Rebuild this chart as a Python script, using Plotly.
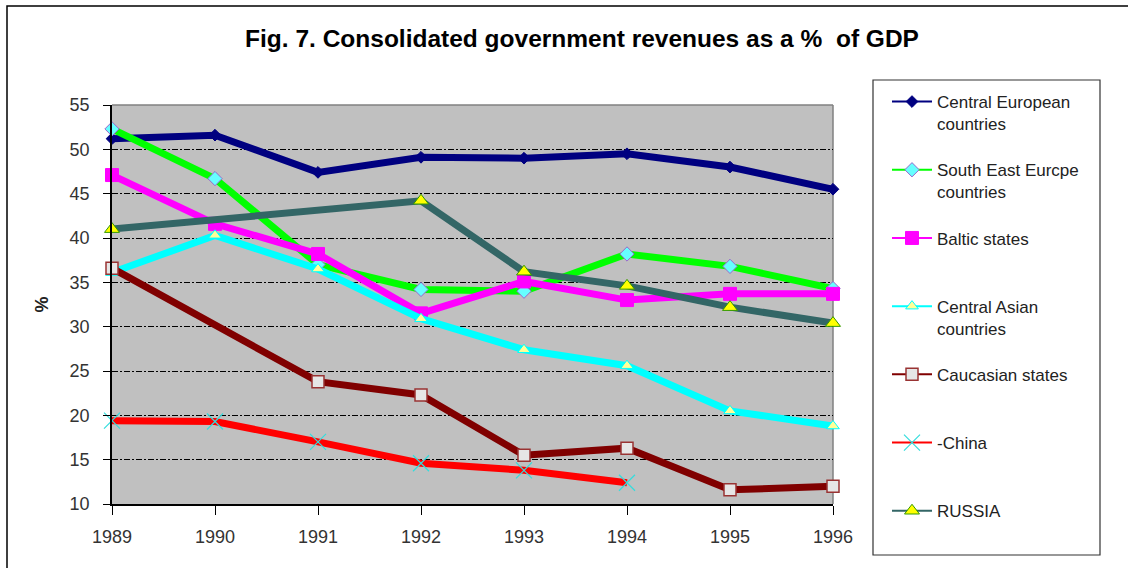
import plotly.graph_objects as go

years = [1989, 1990, 1991, 1992, 1993, 1994, 1995, 1996]
central_europe = [51.2, 51.6, 47.4, 49.1, 49.0, 49.5, 48.0, 45.5]
south_east_europe = [52.3, 46.7, 37.0, 34.2, 34.0, 38.2, 36.8, 34.3]
baltic = [47.1, 41.6, 38.2, 31.5, 35.1, 33.0, 33.7, 33.7]
central_asia = [36.1, 40.3, 36.5, 30.9, 27.4, 25.6, 20.5, 18.8]
caucasus = [36.6, None, 23.8, 22.3, 15.5, 16.3, 11.6, 12.0]
china = [19.4, 19.3, 17.0, 14.6, 13.8, 12.4, None, None]
russia = [41.0, None, None, 44.2, 36.2, 34.6, 32.2, 30.4]

series = [
    ("Central European<br>countries", central_europe, "#000080",
     dict(symbol="diamond", size=9, color="#000080", line=dict(color="#000080", width=1))),
    ("South East Eurcpe<br>countries", south_east_europe, "#00FF00",
     dict(symbol="diamond", size=11, color="#66FFFF", line=dict(color="#9966CC", width=1))),
    ("Baltic states<br> ", baltic, "#FF00FF",
     dict(symbol="square", size=13, color="#FF00FF", line=dict(color="#FF00FF", width=1))),
    ("Central Asian<br>countries", central_asia, "#00FFFF",
     dict(symbol="triangle-up", size=11, color="#FFFF99", line=dict(color="#00FFFF", width=1))),
    ("Caucasian states<br> ", caucasus, "#800000",
     dict(symbol="square", size=12, color="#E6E6E6", line=dict(color="#993333", width=1.5))),
    ("-China<br> ", china, "#FF0000",
     dict(symbol="x-thin-open", size=16, color="#33DDDD", line=dict(color="#33DDDD", width=1.2))),
    ("RUSSIA<br> ", russia, "#336666",
     dict(symbol="triangle-up", size=13, color="#FFFF00", line=dict(color="#339900", width=1))),
]

fig = go.Figure()
for name, vals, col, mk in series:
    fig.add_trace(go.Scatter(
        x=years, y=vals, mode="lines+markers", name=name,
        line=dict(color=col, width=7), marker=mk, connectgaps=True,
        showlegend=False, cliponaxis=False, legendgroup=name))
for name, vals, col, mk in series:
    fig.add_trace(go.Scatter(
        x=[None], y=[None], mode="lines+markers", name=name,
        line=dict(color=col, width=2), marker=mk, showlegend=True, legendgroup=name))

L, R, T, B = 112, 833, 105, 504
W, H = 1128, 568
def px(x):
    return (x - L) / (R - L)
def py(y):
    return (B - y) / (B - T)

fig.update_layout(
    width=W, height=H,
    margin=dict(l=L, r=W - R, t=T, b=H - B),
    paper_bgcolor="white", plot_bgcolor="#C0C0C0",
    font=dict(family="Liberation Sans, Arial, sans-serif", color="#222222"),
    title=dict(text="<b>Fig. 7. Consolidated government revenues as a %  of GDP</b>",
               x=582 / W, xanchor="center", y=1 - 38 / H, yanchor="middle",
               font=dict(size=24.5, color="#000000")),
    xaxis=dict(range=[1989, 1996], tickvals=years, ticktext=[str(y) for y in years],
               showgrid=False, zeroline=False, showline=True, linecolor="#000000", linewidth=1.5,
               ticks="outside", ticklen=9, tickcolor="#000000", tickwidth=1,
               ticklabelstandoff=7, tickfont=dict(size=18, color="#333333")),
    yaxis=dict(range=[10, 55], tickvals=[10, 15, 20, 25, 30, 35, 40, 45, 50, 55],
               showgrid=True, gridcolor="#000000", gridwidth=1, griddash="6px,2px,2px,2px",
               zeroline=False, showline=True, linecolor="#000000", linewidth=1.5,
               ticks="outside", ticklen=7, tickcolor="#000000",
               ticklabelstandoff=10, tickfont=dict(size=18, color="#333333"),
               title=dict(text="<b>%</b>", font=dict(size=18, color="#222222"), standoff=16)),
    legend=dict(x=px(887), y=py(84), xanchor="left", yanchor="top",
                bgcolor="rgba(0,0,0,0)", borderwidth=0, valign="top", maxheight=540,
                font=dict(size=17, color="#222222"), tracegroupgap=21, itemwidth=40),
    shapes=[
        dict(type="rect", xref="paper", yref="paper", x0=px(873), x1=px(1100), y0=py(555), y1=py(80),
             line=dict(color="#333333", width=1.2), fillcolor="rgba(0,0,0,0)"),
        dict(type="rect", xref="paper", yref="paper", x0=px(7), x1=px(1140), y0=py(590), y1=py(6),
             line=dict(color="#000000", width=1.5), fillcolor="rgba(0,0,0,0)"),
        dict(type="line", xref="paper", yref="paper", x0=0, x1=1, y0=1, y1=1,
             line=dict(color="#808080", width=1.5), layer="below"),
        dict(type="line", xref="paper", yref="paper", x0=1, x1=1, y0=0, y1=1,
             line=dict(color="#808080", width=1.5), layer="below"),
    ],
)

fig.write_html("out.html", config={"displayModeBar": False},
               post_script="document.body.style.margin='0px';document.body.style.overflow='hidden';")
